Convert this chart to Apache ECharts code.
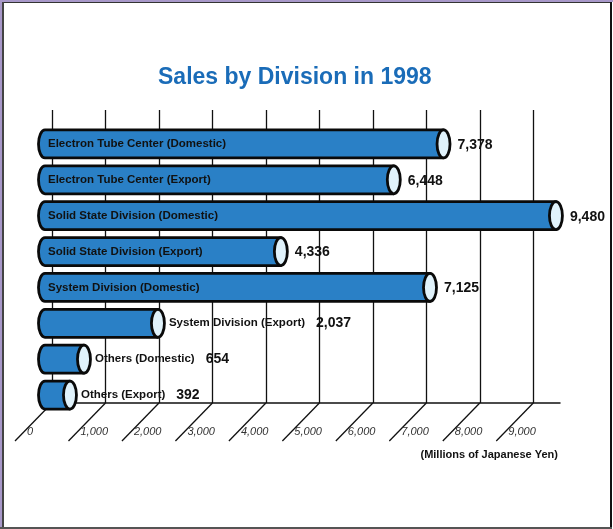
<!DOCTYPE html>
<html>
<head>
<meta charset="utf-8">
<script src="https://cdn.jsdelivr.net/npm/echarts@6/dist/echarts.min.js"></script>
<style>
  html, body { margin: 0; padding: 0; background: #fff; }
  #chart { position: absolute; left: 0; top: 0; width: 613px; height: 529px; }
  .edge { position: absolute; pointer-events: none; }
</style>
</head>
<body>
<div id="chart"></div>
<!-- picture frame -->
<div class="edge" style="left:0;top:0;width:613px;height:2px;background:#a898c9"></div>
<div class="edge" style="left:0;top:0;width:2px;height:529px;background:#a898c9"></div>
<div class="edge" style="left:2px;top:2px;width:609px;height:1px;background:#333"></div>
<div class="edge" style="left:2px;top:2px;width:2px;height:526px;background:#444"></div>
<div class="edge" style="left:610px;top:2px;width:2px;height:527px;background:#111"></div>
<div class="edge" style="left:0;top:527px;width:612px;height:2px;background:#555"></div>
<script>
const categories = [
  'Electron Tube Center (Domestic)',
  'Electron Tube Center (Export)',
  'Solid State Division (Domestic)',
  'Solid State Division (Export)',
  'System Division (Domestic)',
  'System Division (Export)',
  'Others (Domestic)',
  'Others (Export)'
];
const sales = [7378, 6448, 9480, 4336, 7125, 2037, 654, 392];
const tickValues = [0, 1000, 2000, 3000, 4000, 5000, 6000, 7000, 8000, 9000];
const tickLabels = ['0', '1,000', '2,000', '3,000', '4,000', '5,000', '6,000', '7,000', '8,000', '9,000'];

const FONT = '"Liberation Sans", Arial, sans-serif';
const fmt = v => v.toLocaleString('en-US');

// cylinder bar: rounded left end, pale elliptical right face
function renderCylinder(params, api) {
  const v = api.value(0);
  const idx = api.value(1);
  const end = api.coord([v, idx]);
  const start = api.coord([0, idx]);
  const h = 28, rx = 6.5;
  const x0 = start[0] - 7, xe = end[0] - 3, y = end[1];
  const top = y - h / 2, bot = y + h / 2;
  const body = `M${x0},${top} L${xe},${top} L${xe},${bot} L${x0},${bot} A${rx},${h / 2} 0 0 1 ${x0},${top} Z`;
  const face = `M${xe - rx},${y} A${rx},${h / 2} 0 1 1 ${xe + rx},${y} A${rx},${h / 2} 0 1 1 ${xe - rx},${y} Z`;
  const children = [
    { type: 'path', shape: { pathData: body }, style: { fill: '#2a80c6', stroke: '#0a0a0a', lineWidth: 2.8, lineJoin: 'round' } },
    { type: 'path', shape: { pathData: face }, style: { fill: '#e0f2fb', stroke: '#0a0a0a', lineWidth: 2.8 } }
  ];
  const name = categories[idx];
  if (v >= 4000) {
    children.push({ type: 'text', style: { text: name, x: x0 + 3, y: y, verticalAlign: 'middle',
      font: 'bold 11.5px ' + FONT, fill: '#111' } });
    children.push({ type: 'text', style: { text: fmt(v), x: xe + 14, y: y + 1, verticalAlign: 'middle',
      font: 'bold 14px ' + FONT, fill: '#111' } });
  } else {
    children.push({ type: 'text', style: {
      text: `{n|${name}}{v|${fmt(v)}}`, x: xe + 11, y: y, verticalAlign: 'middle',
      rich: {
        n: { fontSize: 11.5, fontWeight: 'bold', fontFamily: FONT, fill: '#111', color: '#111' },
        v: { fontSize: 14, fontWeight: 'bold', fontFamily: FONT, fill: '#111', color: '#111', padding: [0, 0, 0, 11] }
      } } });
  }
  return { type: 'group', children };
}

// slanted floor ticks with their labels
function renderFloorTick(params, api) {
  const p = api.coord([api.value(0), 0]);
  return {
    type: 'group',
    children: [
      { type: 'line', shape: { x1: p[0], y1: p[1], x2: p[0] - 37, y2: p[1] + 38 },
        style: { stroke: '#111', lineWidth: 1.3 } },
      { type: 'text', style: { text: tickLabels[params.dataIndex], x: p[0] - 25, y: p[1] + 29,
        verticalAlign: 'middle', font: 'italic 11px ' + FONT, fill: '#333' } }
    ]
  };
}

const chart = echarts.init(document.getElementById('chart'), null, { renderer: 'canvas' });
chart.setOption({
  backgroundColor: '#fff',
  animation: false,
  title: [
    { text: 'Sales by Division in 1998', left: 158, top: 66, padding: 0,
      textStyle: { color: '#1a6cb8', fontSize: 23, fontWeight: 'bold', fontFamily: FONT } },
    { text: '(Millions of Japanese Yen)', right: 55, top: 449, padding: 0,
      textStyle: { color: '#111', fontSize: 11, fontWeight: 'bold', fontFamily: FONT } }
  ],
  grid: [
    { left: 52, right: 53, top: 110, bottom: 126 },
    { left: 52, right: 53, top: 126, bottom: 116 }
  ],
  xAxis: [
    { gridIndex: 0, type: 'value', min: 0, max: 9500, interval: 1000,
      axisLine: { show: true, lineStyle: { color: '#111', width: 1.5 } },
      axisTick: { show: false }, axisLabel: { show: false },
      splitLine: { show: true, showMaxLine: false, lineStyle: { color: '#111', width: 1.3 } } },
    { gridIndex: 1, type: 'value', min: 0, max: 9500, show: false, splitLine: { show: false } }
  ],
  yAxis: [
    { gridIndex: 0, type: 'value', min: 0, max: 1, show: false, splitLine: { show: false } },
    { gridIndex: 1, type: 'category', data: categories, inverse: true, show: false }
  ],
  series: [
    { type: 'custom', xAxisIndex: 0, yAxisIndex: 0, z: 2, silent: true,
      renderItem: renderFloorTick, data: tickValues.map(v => [v, 0]) },
    { type: 'custom', xAxisIndex: 1, yAxisIndex: 1, z: 5, silent: true,
      renderItem: renderCylinder, encode: { x: 0, y: 1 },
      data: sales.map((v, i) => [v, i]) }
  ]
});
</script>
</body>
</html>
